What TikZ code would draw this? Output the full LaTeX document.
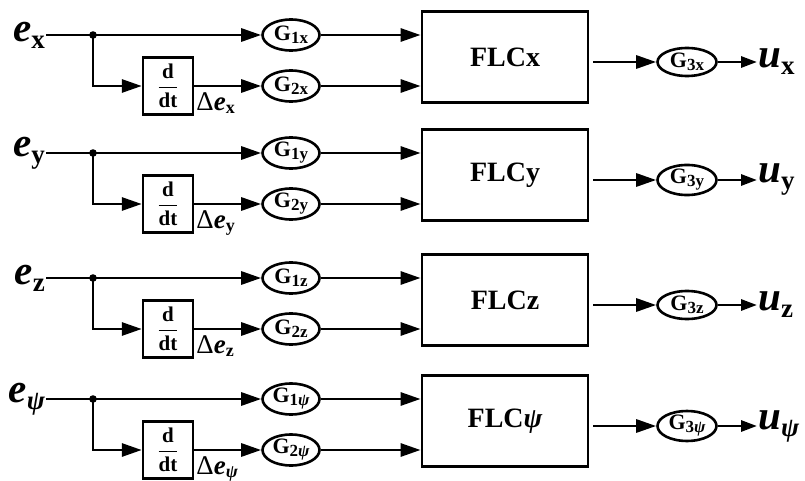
\documentclass[tikz,border=0pt]{standalone}
\usepackage{amsmath}
\usepackage{fontspec}
\setmainfont{Liberation Serif}
\usetikzlibrary{arrows.meta,shapes.geometric}

% signal name: bold italic letter with a bold subscript
\newcommand\sigvar[2]{{\fontsize{41}{41}\selectfont\bfseries\itshape #1}\raisebox{-7pt}{\fontsize{27}{27}\selectfont\bfseries #2}}
% gain label G with index
\newcommand\gainlab[2]{{\fontsize{22}{22}\selectfont\bfseries G}\raisebox{-3pt}{\fontsize{17}{17}\selectfont\bfseries #1#2}}
% derivative label
\newcommand\dlab[1]{{\fontsize{27}{27}\selectfont Δ\textbf{\textit{e}}}\raisebox{-3pt}{\fontsize{18}{18}\selectfont\bfseries #1}}

\begin{document}
\begin{tikzpicture}[x=1pt,y=-1pt,
  wire/.style={line width=2.9pt},
  arr/.style={wire,-{Triangle[length=20pt,width=13pt]}},
  sarr/.style={wire,-{Triangle[length=16pt,width=11pt]}},
  gain/.style={draw,ellipse,line width=2.6pt,minimum width=57pt,minimum height=31pt,inner sep=0pt},
  gainsm/.style={gain,minimum width=59pt,minimum height=28pt},
  ddbox/.style={draw,line width=2.4pt,minimum width=50pt,minimum height=57pt,inner sep=0pt,
    font=\fontsize{21}{21}\selectfont},
  flcbox/.style={draw,line width=2.8pt,minimum width=166pt,minimum height=91pt,
    font=\fontsize{28}{28}\selectfont\bfseries},
  siglab/.style={inner sep=1pt}]
\useasboundingbox (0,0) rectangle (805,481);

\foreach \r/\m/\s in {x/35/x, y/153/y, z/278/z, p/399/{{\itshape ψ}}} {
  % input, branch point and gains
  \node[siglab,anchor=east] (e\r) at (46,\m) {\sigvar{e}{\s}};
  \coordinate (j\r) at (93,\m);
  \node[gain] (ga\r) at (291,\m) {\gainlab{1}{\s}};
  \node[gain] (gb\r) at (291,\m+51) {\gainlab{2}{\s}};
  \node[ddbox] (d\r) at (168,\m+51)
    {$\displaystyle\genfrac{}{}{1.6pt}{0}{\textbf{d}}{\textbf{dt}}$};
  \node[anchor=base west,inner sep=0pt] (de\r) at ([xshift=2pt,yshift=5pt]d\r.south east) {\dlab{\s}};
  % controller and output
  \node[flcbox] (f\r) at (505,\m+22) {FLC\s};
  \node[gainsm] (gc\r) at (687,\m+27) {\gainlab{3}{\s}};
  \node[siglab,anchor=west] (u\r) at (757,\m+27) {\sigvar{u}{\s}};

  % connectors
  \draw[arr] (e\r.east) -- (ga\r.west);
  \fill (j\r) circle (3.8pt);
  \draw[arr] (j\r) |- (d\r.west);
  \draw[arr] (d\r.east) -- (gb\r.west);
  \draw[arr] (ga\r.east) -- (f\r.west |- ga\r.east);
  \draw[arr] (gb\r.east) -- (f\r.west |- gb\r.east);
  \draw[arr,shorten <=4pt] (f\r.east |- gc\r.west) -- (gc\r.west);
  \draw[sarr] (gc\r.east) -- (u\r.west);
}
\end{tikzpicture}
\end{document}
